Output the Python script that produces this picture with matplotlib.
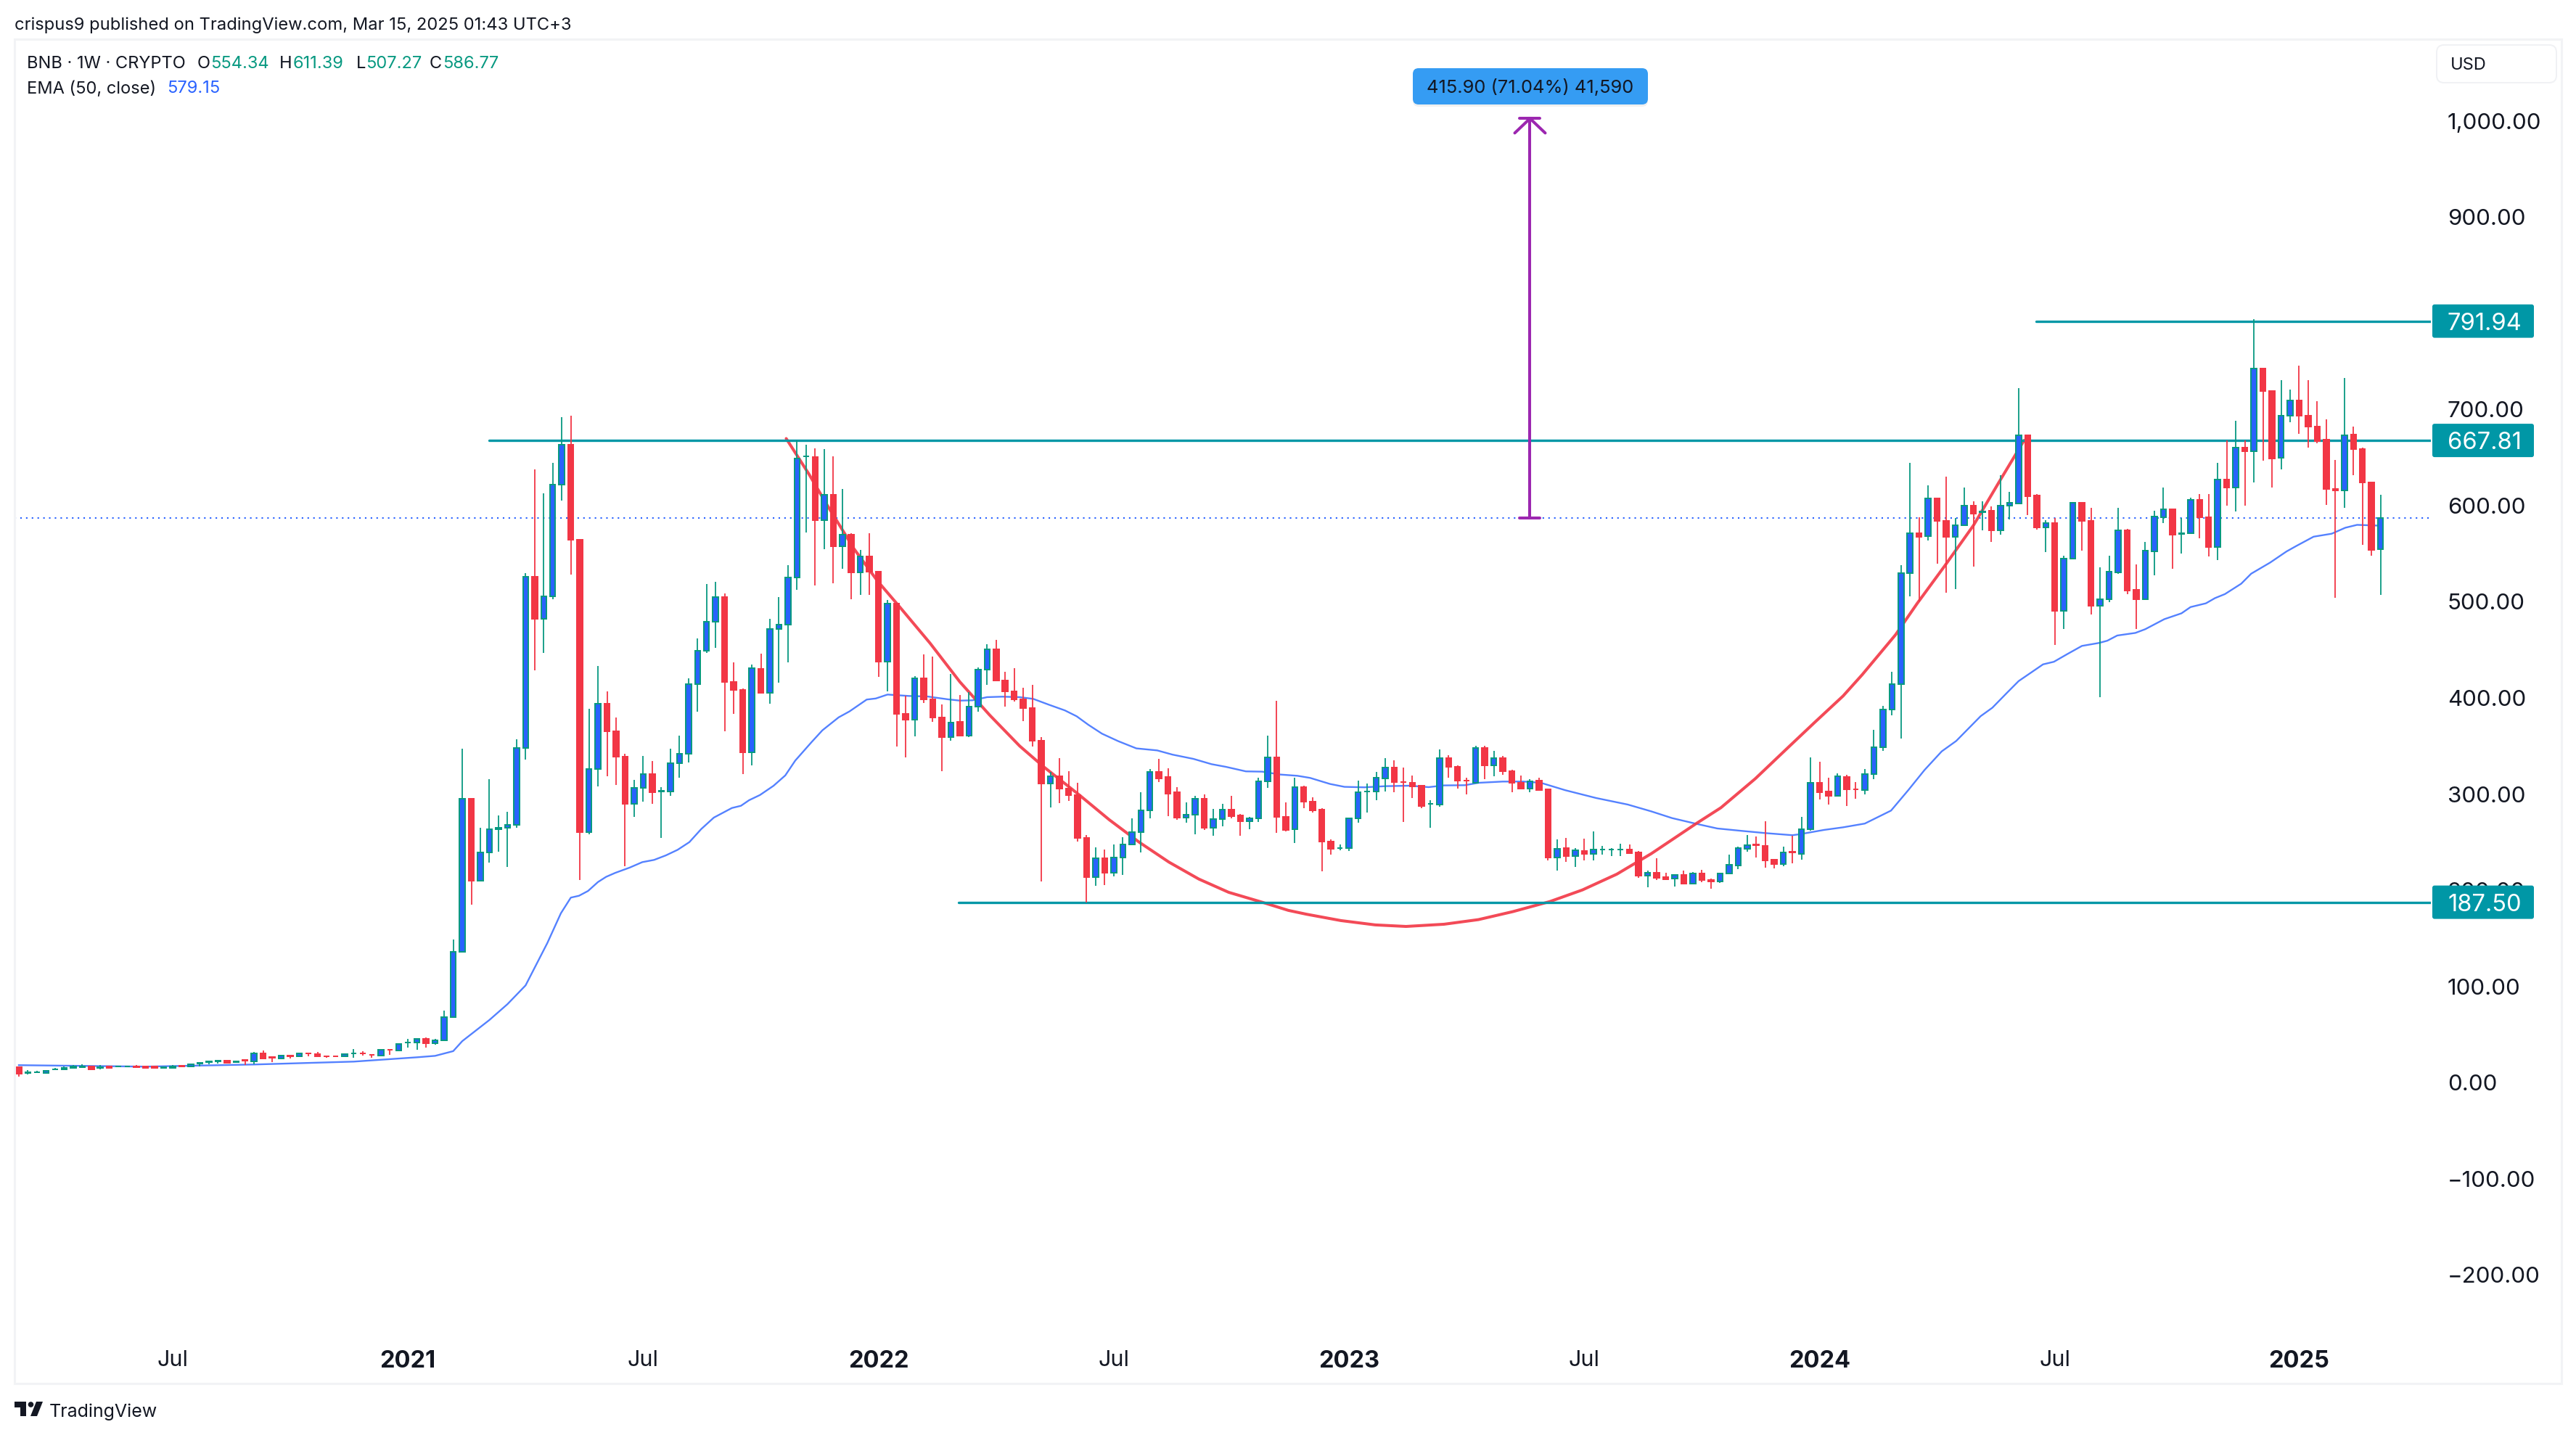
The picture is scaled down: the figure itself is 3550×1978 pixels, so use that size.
import matplotlib
matplotlib.use('Agg')
import matplotlib.pyplot as plt
from matplotlib.patches import FancyBboxPatch, Rectangle, Polygon, Circle
import pandas as pd

plt.rcParams['font.family'] = ['Inter', 'DejaVu Sans']

# weekly BNB candles
opens = [16, 10, 10.8, 10.2, 13.5, 14, 15.5, 16, 17, 15.5, 16.5, 16.5, 16.6, 16.8, 16.5, 16.5, 15, 15.5, 17.5, 17,
         20, 21.5, 22, 22.5, 21, 23.2, 22, 30, 26.2, 25.3, 28, 27.4, 30.5, 29.5, 27.6, 27.5, 27, 30, 30.5, 29,
         28, 34.2, 33, 41.6, 41.3, 45, 41, 43.5, 68, 136, 295, 210, 239.6, 263.5, 264.7, 268, 348, 526, 481.9, 505.3,
         622, 663, 564.6, 260.4, 326, 393.7, 365.6, 338.6, 290, 306.7, 321, 303, 302.8, 332.4, 341.7, 414, 448.7, 479.5, 504.6, 416.4,
         408, 343.6, 429.9, 405.6, 471.5, 476.5, 525.4, 651, 650.9, 584.7, 611.6, 558, 570, 530.4, 546.9, 531, 438, 498.4, 383.7, 377.1,
         420.1, 398.5, 380, 359.5, 374.9, 361, 390.7, 429.7, 450.3, 417.9, 406.6, 398.5, 389.2, 355.2, 311.2, 318.3, 305.4, 298.9, 254.1, 213.9,
         233, 218.4, 233.8, 247.4, 260.7, 282.8, 322.8, 317.8, 301.7, 275.8, 278.8, 294.9, 265.2, 273.8, 283.6, 277.5, 272, 275, 313, 337.9,
         276, 263.2, 307, 291.9, 283.6, 250.4, 243.8, 243.6, 274.5, 302.7, 302.4, 316.5, 327.3, 312.8, 311.5, 308.7, 289.8, 289, 337.1, 328,
         314.1, 312, 347.7, 330, 337.1, 323.6, 311.7, 306, 313.8, 304.7, 234.3, 243.6, 235.8, 240.6, 238, 242.4, 242.4, 242.4, 242, 239,
         215.4, 217.9, 213.4, 211.9, 215.7, 207.1, 217.4, 210.4, 208.9, 217.2, 226, 243.3, 247.3, 245.8, 231.5, 227.5, 239.8, 238, 263.7, 311.5,
         302.4, 298.4, 318, 305.2, 304, 320.5, 349, 388.3, 414, 529.6, 571.2, 568, 607.4, 583.9, 567.3, 579.3, 600, 593.3, 594.7, 574.6,
         599.7, 602.4, 673.2, 610.5, 577, 582, 490.3, 544.6, 602.8, 583.9, 496, 503, 530.4, 574.3, 512.7, 502.6, 552.3, 588.1, 596.2, 570.6,
         571.6, 606.2, 588.1, 557.3, 627.4, 619, 660, 656.3, 742.5, 719, 649.4, 693.3, 709.4, 693.3, 682.5, 668.6, 617.4, 615.5, 673.6, 658.6,
         624, 554.34]
highs = [16.5, 13, 12.5, 13, 15, 17, 18, 19, 17.5, 18, 17, 17.5, 17.5, 18, 17, 17, 17, 18, 18, 20,
         21, 22.5, 23, 23, 23, 24, 31.5, 33, 26.5, 28.5, 28.3, 31, 30.7, 32, 28, 27.8, 30, 35, 32.5, 29.2,
         35, 34.5, 41, 45, 46, 47, 45.5, 75, 149, 347.5, 295.5, 264.7, 315.5, 277.8, 281.6, 356.7, 530, 638, 613, 644.7,
         691.7, 693.6, 565.5, 388.7, 433, 407, 379.8, 341.7, 315, 339.4, 334, 307.4, 347.5, 361, 420.6, 461.8, 518.8, 520.7, 509, 436.8,
         410, 434.9, 446, 482.2, 505, 538, 667.8, 663, 659.4, 658.6, 651, 617, 571.6, 554, 571.6, 532, 501.5, 499, 402, 423,
         445, 442.8, 393, 424.6, 402.8, 406, 431.7, 455.6, 460, 427, 431, 410.3, 413.6, 359.3, 322.8, 337, 323.5, 311.5, 257.4, 244.3,
         242.3, 247.4, 255.2, 274.5, 301.7, 325.8, 336.4, 326.6, 307.2, 291.4, 297.9, 299.4, 284.6, 289.8, 298.2, 279.3, 276, 316.8, 360.8, 397,
         291.4, 316.8, 308.5, 296.6, 285, 252.6, 247.4, 275.5, 314, 310.7, 323, 337.4, 334.9, 327.6, 319.3, 309.2, 293.6, 346.2, 340.4, 329.8,
         316.8, 350.2, 350.2, 345, 339.4, 325, 319.3, 315.5, 316.8, 305.2, 252.9, 254.4, 243.6, 253.6, 261.2, 245.8, 243.8, 248, 247.6, 240.6,
         220.4, 233.3, 218.2, 216.4, 220.4, 219, 221.2, 211.9, 217.9, 236.8, 245.3, 257.4, 256.2, 271.8, 232.5, 245.3, 256.9, 276.3, 338.1, 333.6,
         317, 321.5, 320, 312.8, 325.9, 366.7, 391.7, 427, 538, 644.7, 587.7, 620.9, 608.2, 630, 587, 619, 604.3, 604.7, 599.3, 631.3,
         614, 722.5, 674, 612, 585, 587, 547.7, 604, 604, 597.4, 535.8, 547.7, 597.8, 575.8, 538.8, 562, 594.7, 618.5, 597, 587,
         608.2, 612, 612, 644.7, 667.8, 688.3, 667.8, 794, 743, 720, 730.6, 721, 745.6, 730.6, 708.6, 689.8, 647.8, 732.5, 682.5, 660,
         624.5, 611.39]
lows = [6, 8, 10, 10, 13, 13.5, 15, 15.5, 13, 13.5, 15, 16, 16, 15, 15, 15, 15, 15, 16, 16.5,
        17, 19, 19.5, 20, 20.5, 18, 19, 24.5, 21, 25, 25, 27, 27.5, 26.5, 25.5, 26.5, 26.5, 26, 28, 26,
        27.5, 28.5, 32.5, 36, 34, 36, 39, 43, 67, 135, 185, 209.6, 229, 240.4, 224, 264.7, 336, 429, 447, 503,
        605.5, 528, 210.8, 258.5, 307.8, 318.6, 309.7, 225, 276, 292.4, 290, 254.7, 297.8, 316.7, 332.8, 386, 447, 452, 365.6, 383.7,
        320.5, 330, 405.6, 393.7, 415.6, 436.8, 512.3, 572.3, 517.3, 555, 519.6, 534.6, 502.3, 507.3, 506.9, 421.8, 406.8, 349.8, 337.8, 360.3,
        395, 375.4, 324, 355.8, 360.3, 359.5, 386, 413.8, 417, 391.2, 396.5, 376, 349.5, 209, 286.3, 290.6, 292.9, 250.6, 187.5, 204.8,
        205.6, 214.7, 216.2, 247, 239.3, 274.8, 312.5, 277, 273.5, 270.5, 258.4, 262.9, 256.9, 266.7, 274.8, 256.9, 263.7, 271.2, 306.7, 259.7,
        261.4, 249.4, 285.6, 280.8, 220, 237.3, 241.5, 241, 270.5, 280.8, 293.9, 302.9, 301.9, 271.2, 296, 285.6, 265.2, 287, 317, 306,
        300, 312, 315.5, 318.5, 320.3, 301.9, 306, 301.9, 303.4, 231, 220.7, 229.5, 224.5, 231, 231, 237, 235.5, 235.5, 237.5, 212.9,
        203.3, 210.6, 211, 204, 206, 206, 208.6, 201.8, 207.9, 217, 222.2, 240, 234.3, 223.7, 222.9, 225.2, 228, 232, 262.2, 294.4,
        289, 298, 287.8, 295, 300, 315.5, 345, 382, 357.9, 506, 500.3, 563.9, 539.6, 509.2, 513, 579, 536.9, 574.6, 562, 569.6,
        586, 601.6, 590, 575.4, 551.5, 455.3, 471.5, 544, 553, 486.9, 401, 499.6, 529.2, 508, 471.5, 502, 527.3, 582, 534.2, 550.4,
        571, 565.8, 547.3, 543.5, 599.7, 594.3, 599.7, 624.3, 646.7, 619, 637.8, 687, 674.8, 660, 665, 600.4, 504, 597.4, 631.3, 559.3,
        547.7, 507.27]
closes = [9, 10.5, 11, 12.5, 14, 15, 16.5, 16.5, 13.5, 16, 15.5, 16.8, 16.8, 16.2, 15.5, 15, 16, 16.5, 16.5, 18.8,
          20.3, 21.9, 22.4, 20.8, 22, 23, 30, 25, 26, 28, 27.5, 30, 30.2, 27, 27.2, 27, 29.5, 30.2, 30.3, 28.8,
          34, 34, 40.4, 41.8, 45, 41, 44, 68, 136, 295, 210, 239.6, 263.5, 264.7, 268, 348, 526, 481.9, 505.3, 622,
          663, 564.6, 260.4, 326, 393.7, 365.6, 338.6, 290, 306.7, 321, 301.6, 303.4, 332.4, 341.7, 414, 448.7, 479.5, 504.6, 416.4, 408,
          343.6, 430.6, 405.6, 471.5, 476.5, 525.4, 649, 651.3, 584.7, 611.6, 558, 570, 530.4, 546.9, 531, 438, 498.4, 383.7, 377.1, 420.1,
          398.5, 380, 359.5, 374.6, 361, 390.7, 429.7, 450.3, 417.9, 406.6, 398.5, 389.2, 355.2, 311.2, 318.3, 305.4, 298.9, 254.1, 213.9, 233,
          218.4, 233.8, 247.4, 260.7, 282.8, 322.8, 316.3, 300.4, 275.8, 278.8, 294.9, 265.2, 273.8, 283.6, 277.3, 272, 275, 313, 337.9, 276,
          262.7, 307, 291.9, 283.3, 250.4, 243, 244, 274.5, 302, 302.9, 316.8, 327.3, 312.2, 312.4, 308, 287.6, 290, 337.1, 328, 314.1,
          314, 347.7, 330, 337.1, 323.6, 311.5, 306, 313.5, 304.2, 234.3, 243.3, 235.8, 241.3, 237.8, 242, 242.6, 242.6, 242.6, 238.6, 215.4,
          218.2, 212.9, 211.6, 215.7, 207.1, 217.2, 210.4, 208.9, 217.2, 226.2, 243.6, 246.6, 247, 231.3, 227.2, 239, 239.4, 263.7, 311.5, 302.2,
          298.4, 318.3, 304.7, 304.8, 320.5, 349, 388.3, 414, 529.6, 571.2, 567.7, 607.4, 583.9, 567.3, 579.3, 600, 592, 593.7, 574.3, 600,
          603, 673, 609.7, 577, 582, 490.3, 544.6, 602.8, 583.9, 496, 503, 531, 574.3, 511.9, 503, 553, 588.5, 596.2, 569.6, 571,
          606.2, 588.1, 557.3, 627.4, 619, 660, 656.3, 742.5, 719, 649, 693.3, 709.4, 693.3, 682.5, 667, 617.4, 615.5, 673.2, 658.6, 624,
          554.2, 586.77]

# EMA (50) line, read at these bar positions
ema_bars = [0, 14, 26, 37, 44, 46, 48, 49, 52, 54, 56, 58.4, 59.9, 61, 61.9, 62.9, 64, 64.9, 65.9, 67.5, 68.9, 70.2, 71.5, 72.8, 74.1, 75.4,
            76.8, 78.8, 79.8, 80.7, 81.9, 83.4, 84.7, 85.8, 87.6, 88.8, 90.6, 91.8, 93.7, 94.7, 96, 98.4, 100.4, 102.7, 104, 105.4, 107, 108.7,
            110.6, 112.1, 113.9, 115.6, 116.9, 118.2, 119.7, 121.5, 123.5, 125.8, 127.5, 129.8, 131.8, 133.4, 135.6, 137.4, 139.4, 141.3, 142.7,
            144.9, 146.5, 148.7, 151, 153.7, 155.8, 157.5, 159.8, 161.3, 164, 166.3, 168.2, 170.9, 174.3, 177.8, 180.4, 182.7, 185.4, 187.7,
            190.4, 193, 196, 196.8, 199.5, 201.6, 204, 206.9, 208.8, 210.6, 212.5, 214.1, 216.8, 218.1, 219.7, 221, 223.7, 224.9, 226.4, 228,
            229.9, 230.8, 231.9, 233.9, 235, 237.1, 239, 240, 241.7, 242.7, 243.8, 245.6, 246.7, 248.8, 250.6, 251.7, 253.6, 255.6, 257.1,
            258.4, 261]
ema_vals = [18, 16.5, 18.7, 21.7, 26.2, 27.7, 32.6, 43, 65, 81.5, 101, 145, 176, 192.3, 194.2, 199.2, 208.5, 213.9, 218, 223.5, 229.2, 231.5, 236.2, 242, 250, 263.5,
            275.5, 285.5, 287.8, 293.6, 299, 308.6, 319.4, 334.8, 354, 366.3, 379.8, 386, 398.3, 399.4, 403.5, 402, 401.5, 398.5, 397.2, 397.5, 400.8, 401.3,
            400.8, 399, 392.7, 387, 380.9, 372, 362.8, 355, 347.5, 345.4, 341, 336.6, 331.1, 328.3, 323.6, 323.3, 320.3, 319, 316.8,
            310.5, 307.5, 307, 308.2, 308.7, 307.2, 309, 309.2, 311.7, 313, 313, 311.7, 304, 295.9, 289.1, 282, 275, 269, 264.2,
            261.7, 259.4, 257.2, 258.2, 262.7, 265.4, 269.3, 282.8, 304, 325, 344.4, 355.2, 381, 389.8, 405.2, 417.5, 434.9, 437.6, 445.7, 454.1,
            457.2, 459.5, 464.9, 467.6, 471.5, 481.9, 488, 494.5, 498.4, 503.8, 508, 518.8, 529.2, 540.8, 552.3, 558.1, 567.7, 570.8, 577,
            580, 579.15]

# hand drawn cup curve
cup_bars = [84.8, 87.3, 89.3, 92.3, 94.9, 97.4, 100.7, 104, 107.3, 110.6, 113.3, 117.2, 120.5, 123.8, 127.1, 130.4, 133.7, 137.4, 140.3, 142.3, 146.1,
            149.9, 153.3, 157.5, 161.3, 165.1, 169.2, 172.8, 176.6, 180.4, 185.4, 188.1, 191.9, 195.7, 198.4, 201.6, 203.7, 207.4, 209.8, 212.8, 216, 218.9, 221.6]
cup_vals = [669.8, 633, 601, 555, 521.5, 494, 456.9, 416.6, 382, 350, 328, 299, 273.3, 250, 229.2, 211.6, 197.8, 187.5, 179, 175, 168.4,
            163.9, 162.3, 164.6, 169.4, 177.7, 188.2, 200.3, 216.7, 238, 269.5, 285.8, 316, 350, 374, 402, 424, 465.7, 498.4, 536.9, 579.3, 625.5, 667.81]

level_prices = [791.94, 667.81, 187.50]
level_starts = [222.9, 52.0, 103.85]
y_ticks = [-200, -100, 0, 100, 200, 300, 400, 500, 600, 700, 900, 1000]
measure_bar = 167
measure_from = 586.77
measure_to = 1002.67

W, H = 3550, 1978
UP_EDGE = '#089981'
UP_FILL = '#2962FF'
DOWN = '#F23645'
TEAL = '#0097A6'
INK = '#131722'
BAR_PX = 12.47
PRICE_PX = 1.3252
AX_L, AX_R, AX_T, AX_B = 20, 3350, 54, 1840

fig = plt.figure(figsize=(W / 100, H / 100), dpi=100, facecolor='white')
ax = fig.add_axes([AX_L / W, 1 - AX_B / H, (AX_R - AX_L) / W, (AX_B - AX_T) / H])
ax.set_xlim((AX_L - 26) / BAR_PX, (AX_R - 26) / BAR_PX)
ax.set_ylim(667.81 - (AX_B - 607.1) / PRICE_PX, 667.81 + (607.1 - AX_T) / PRICE_PX)
for s in ax.spines.values():
    s.set_visible(False)

bars = list(range(len(closes)))
dates = pd.date_range('2020-03-09', periods=len(closes), freq='7D')
is_up = [c >= o for o, c in zip(opens, closes)]
edge_cols = [UP_EDGE if u else DOWN for u in is_up]
fill_cols = [UP_FILL if u else DOWN for u in is_up]

ax.plot(ema_bars, ema_vals, color='#2962FF', lw=1.7, alpha=0.8, zorder=2)
ax.plot(cup_bars, cup_vals, color=DOWN, lw=2.9, alpha=0.9, zorder=3, solid_capstyle='round')
for price, start in zip(level_prices, level_starts):
    ax.plot([start, ax.get_xlim()[1]], [price, price], color=TEAL, lw=2.4, zorder=4, solid_capstyle='round')
ax.axhline(closes[-1], color='#2962FF', lw=1.5, ls=(0, (1, 2.8)), zorder=4)

# candles
ax.vlines(bars, lows, highs, colors=edge_cols, lw=1.3, zorder=5)
body_low = [min(o, c) for o, c in zip(opens, closes)]
body_h = [abs(o - c) for o, c in zip(opens, closes)]
ax.bar(bars, body_h, bottom=body_low, width=0.6, color=fill_cols, edgecolor=edge_cols, linewidth=1.44, zorder=6)

# measure arrow
ARROW = '#9C27B0'
cap = 14 / BAR_PX
head_x = 21 / BAR_PX
head_y = 20 / PRICE_PX
ax.plot([measure_bar, measure_bar], [measure_from, measure_to], color=ARROW, lw=2.9, zorder=7)
ax.plot([measure_bar - cap, measure_bar + cap], [measure_from, measure_from], color=ARROW, lw=2.9, zorder=7, solid_capstyle='round')
ax.plot([measure_bar - cap, measure_bar + cap], [measure_to, measure_to], color=ARROW, lw=2.9, zorder=7, solid_capstyle='round')
ax.plot([measure_bar - head_x, measure_bar, measure_bar + head_x], [measure_to - head_y, measure_to, measure_to - head_y],
        color=ARROW, lw=2.9, zorder=7, solid_capstyle='round')

# price axis
ax.yaxis.tick_right()
ax.set_yticks(y_ticks)
ax.set_yticklabels([f'{v:,.2f}'.replace('-', '\u2212') for v in y_ticks])
ax.tick_params(axis='y', length=0, pad=(3373 - AX_R) * 0.72, labelsize=22.5, labelcolor=INK)

# time axis
tick_pos = [i for i, d in zip(bars, dates) if d.month in (1, 7) and d.day <= 7]
tick_txt = [str(dates[i].year) if dates[i].month == 1 else 'Jul' for i in tick_pos]
ax.set_xticks(tick_pos)
ax.set_xticklabels(tick_txt)
ax.tick_params(axis='x', length=0, pad=15, labelsize=22, labelcolor=INK)
for lab in ax.get_xticklabels():
    if lab.get_text() != 'Jul':
        lab.set_fontweight('bold')
        lab.set_fontsize(23.5)

# overlay in pixel coordinates for labels and chrome
ov = fig.add_axes([0, 0, 1, 1], zorder=10)
ov.set_xlim(0, W)
ov.set_ylim(H, 0)
ov.axis('off')
ov.patch.set_alpha(0)

ov.add_patch(Rectangle((20, 54), 3510, 1853, fill=False, edgecolor='#F2F3F5', lw=2.2))


def price_to_px(v):
    return 607.1 + (667.81 - v) * PRICE_PX


for price in level_prices:
    y = price_to_px(price)
    ov.add_patch(FancyBboxPatch((3352, y - 23), 140, 46, boxstyle='round,pad=0,rounding_size=3', fc=TEAL, ec='none'))
    ov.text(3373, y, f'{price:.2f}', color='white', fontsize=23.5, va='center_baseline', ha='left')

# measure label
ov.add_patch(FancyBboxPatch((1947, 97), 324, 50, boxstyle='round,pad=0,rounding_size=8', fc='#000000', ec='none', alpha=0.06))
ov.add_patch(FancyBboxPatch((1947, 94), 324, 50, boxstyle='round,pad=0,rounding_size=8', fc='#359CF3', ec='none'))
ov.text(2109, 119, '415.90 (71.04%) 41,590', color=INK, fontsize=18.3, ha='center', va='center_baseline')

# USD box
ov.add_patch(FancyBboxPatch((3358, 62), 165, 52, boxstyle='round,pad=0,rounding_size=10', fc='white', ec='#F0F1F4', lw=1.4))
ov.text(3377, 87, 'USD', color=INK, fontsize=17, ha='left', va='center_baseline')

# header
ov.text(20, 32, 'crispus9 published on TradingView.com, Mar 15, 2025 01:43 UTC+3', color=INK, fontsize=17.1, va='center_baseline')
GREEN_TXT = '#089981'
ov.text(37, 86, 'BNB \u00b7 1W \u00b7 CRYPTO', color=INK, fontsize=17, va='center_baseline')
for letter, lx, val, vx in [('O', 271.5, opens[-1], 290), ('H', 385, highs[-1], 403.6), ('L', 491, lows[-1], 504), ('C', 592, closes[-1], 610)]:
    ov.text(lx, 86, letter, color=INK, fontsize=17, va='center_baseline')
    ov.text(vx, 86, f'{val:.2f}', color=GREEN_TXT, fontsize=17, va='center_baseline')
ov.text(37, 120, 'EMA (50, close)', color=INK, fontsize=17, va='center_baseline')
ov.text(229.6, 120, f'{ema_vals[-1]:.2f}', color='#2962FF', fontsize=17, va='center_baseline')

# TradingView logo
ov.add_patch(Polygon([(20, 1932), (36, 1932), (36, 1952), (28, 1952), (28, 1940), (20, 1940)], fc=INK, ec='none'))
ov.add_patch(Circle((42.5, 1936), 3.8, fc=INK, ec='none'))
ov.add_patch(Polygon([(50, 1932), (59, 1932), (51, 1952), (42, 1952)], fc=INK, ec='none'))
ov.text(68, 1943.5, 'TradingView', color=INK, fontsize=18, va='center_baseline')

fig.savefig('out.png', dpi=100, facecolor='white')
